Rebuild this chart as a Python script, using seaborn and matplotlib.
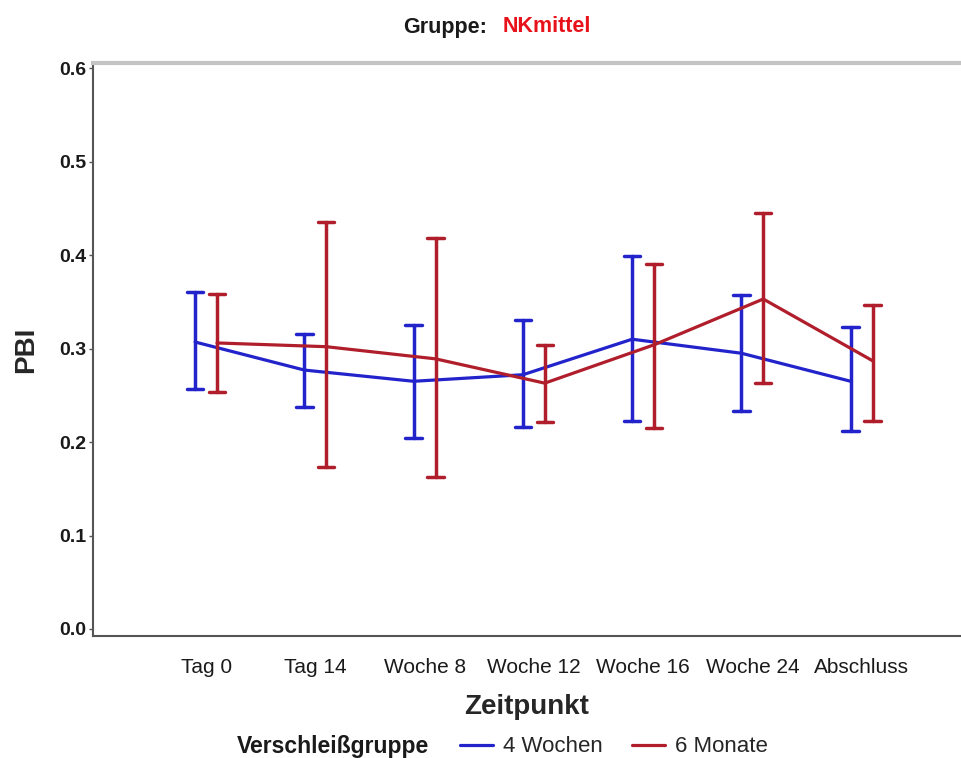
import numpy as np
import pandas as pd
import matplotlib
matplotlib.use("Agg")
import matplotlib.pyplot as plt
import seaborn as sns

# ---- data ----
zeitpunkte = ["Tag 0", "Tag 14", "Woche 8", "Woche 12", "Woche 16", "Woche 24", "Abschluss"]
gruppen = ["4 Wochen", "6 Monate"]

mean_4w = [0.307, 0.277, 0.265, 0.272, 0.310, 0.295, 0.265]
lo_4w   = [0.257, 0.238, 0.204, 0.216, 0.222, 0.233, 0.212]
hi_4w   = [0.360, 0.316, 0.325, 0.331, 0.399, 0.357, 0.323]

mean_6m = [0.306, 0.302, 0.289, 0.263, 0.304, 0.353, 0.287]
lo_6m   = [0.253, 0.173, 0.163, 0.221, 0.215, 0.263, 0.223]
hi_6m   = [0.358, 0.435, 0.418, 0.304, 0.390, 0.445, 0.347]

colors = {"4 Wochen": "#2323CC", "6 Monate": "#B01E2C"}

rows = []
for g, m, lo, hi in [("4 Wochen", mean_4w, lo_4w, hi_4w), ("6 Monate", mean_6m, lo_6m, hi_6m)]:
    for z, a, b, c in zip(zeitpunkte, lo, m, hi):
        for v in (a, b, c):
            rows.append({"Zeitpunkt": z, "Verschleißgruppe": g, "PBI": v})
df = pd.DataFrame(rows)

sns.set_theme(style="white")
plt.rcParams["font.family"] = ["Liberation Sans", "DejaVu Sans"]

fig = plt.figure(figsize=(9.61, 7.58), dpi=100)
ax = fig.add_axes([93 / 961, 1 - 636 / 758, 1 - 93 / 961, (636 - 63) / 758])

sns.pointplot(
    data=df, x="Zeitpunkt", y="PBI", hue="Verschleißgruppe",
    order=zeitpunkte, hue_order=gruppen, palette=colors,
    estimator="median", errorbar=("pi", 100),
    dodge=0.2, capsize=0.15, markersize=0, linewidth=2.3,
    err_kws={"linewidth": 2.5}, ax=ax,
)

ax.set_ylim(-0.0075, 0.6055)
ax.set_xlim(-1.035, 6.91)
ax.set_yticks([0.0, 0.1, 0.2, 0.3, 0.4, 0.5, 0.6])
ax.set_yticklabels(["0.0", "0.1", "0.2", "0.3", "0.4", "0.5", "0.6"])

for s in ["left", "bottom"]:
    ax.spines[s].set_color("#555555")
    ax.spines[s].set_linewidth(1.5)
ax.spines["right"].set_visible(False)
ax.spines["top"].set_color("#C4C4C4")
ax.spines["top"].set_linewidth(3)

ax.tick_params(axis="y", which="both", left=True, length=3, width=1, color="#555555",
               labelsize=14, labelcolor="#1a1a1a", pad=2)
ax.tick_params(axis="x", which="both", bottom=False, labelsize=15, labelcolor="#1a1a1a", pad=10)
for t in ax.get_yticklabels():
    t.set_fontweight("bold")

ax.set_xlabel("Zeitpunkt", fontsize=20, fontweight="bold", labelpad=12)
ax.set_ylabel("PBI", fontsize=20, fontweight="bold", labelpad=14)

handles, labels = ax.get_legend_handles_labels()
if ax.get_legend() is not None:
    ax.get_legend().remove()

fig.text(237 / 961, 1 - 747 / 758, "Verschleißgruppe", ha="left", va="center",
         fontsize=16.5, fontweight="bold", color="#1a1a1a")
fig.legend(handles, labels, loc="center left", bbox_to_anchor=(460 / 961, 1 - 747 / 758),
           ncol=2, frameon=False, fontsize=16, handlelength=1.5, handletextpad=0.45,
           columnspacing=1.3, borderaxespad=0, borderpad=0)

fig.text(487 / 961, 1 - 27 / 758, "Gruppe:", ha="right", va="center",
         fontsize=15.5, fontweight="bold", color="#1a1a1a")
fig.text(503 / 961, 1 - 27 / 758, "NKmittel", ha="left", va="center",
         fontsize=15.5, fontweight="bold", color="#E8121A")

fig.savefig("out.png", dpi=100)
